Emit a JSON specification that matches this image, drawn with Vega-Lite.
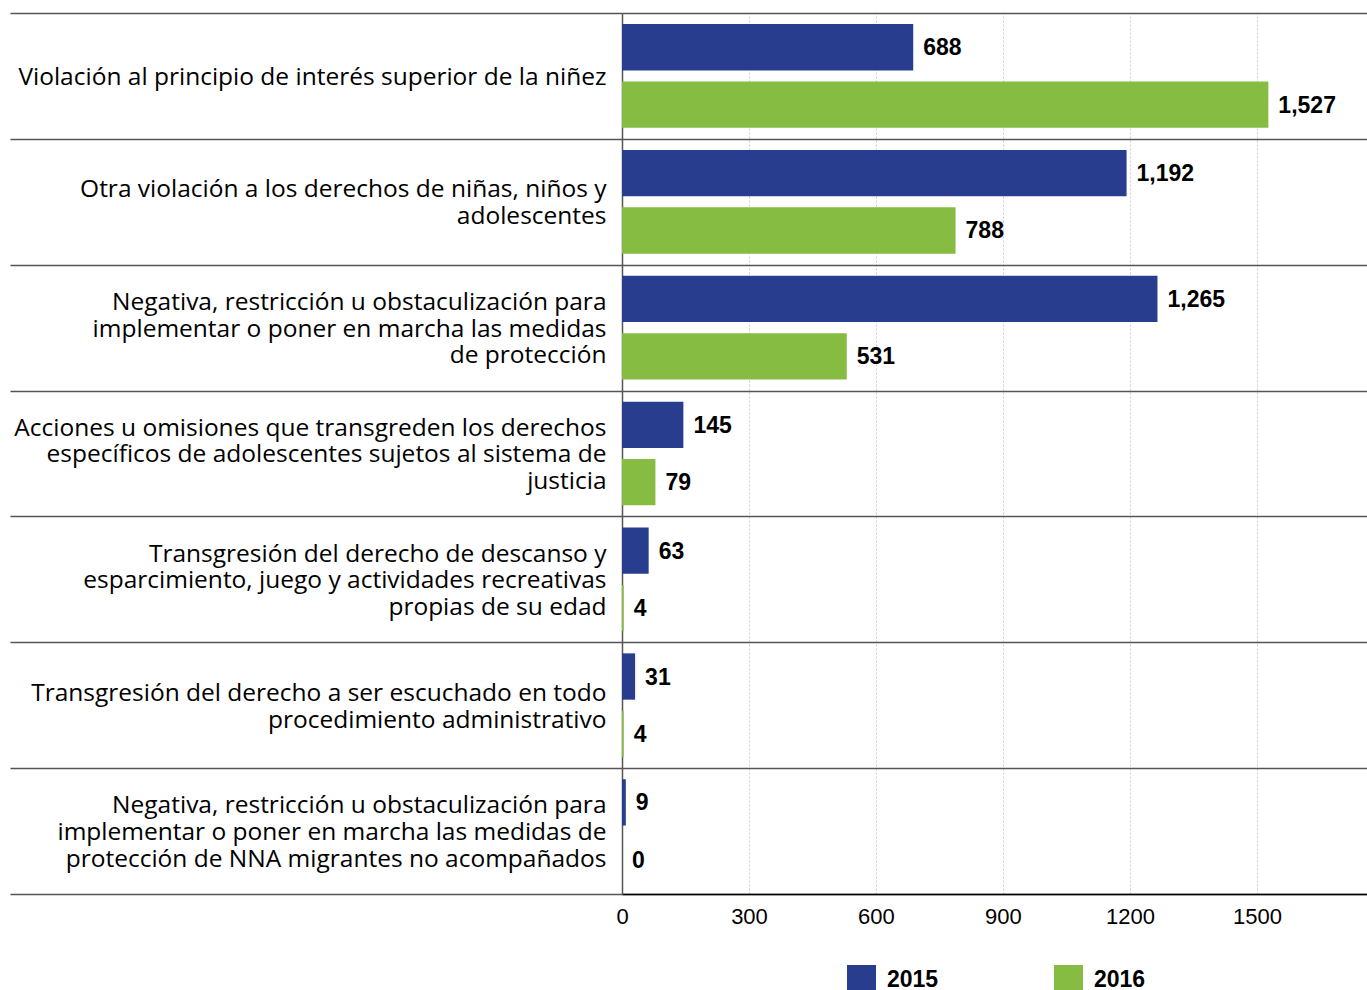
{
  "$schema": "https://vega.github.io/schema/vega-lite/v6.json",
  "width": 745,
  "height": 881,
  "autosize": {"type": "none"},
  "padding": {"left": 622, "top": 13, "right": 0, "bottom": 96},
  "background": "#ffffff",
  "config": {"view": {"stroke": null}, "font": "Liberation Sans"},
  "data": {
    "values": [
      {"categoria": "Violación al principio de interés superior de la niñez", "anio": "2015", "valor": 688},
      {"categoria": "Violación al principio de interés superior de la niñez", "anio": "2016", "valor": 1527},
      {"categoria": "Otra violación a los derechos de niñas, niños y|adolescentes", "anio": "2015", "valor": 1192},
      {"categoria": "Otra violación a los derechos de niñas, niños y|adolescentes", "anio": "2016", "valor": 788},
      {"categoria": "Negativa, restricción u obstaculización para|implementar o poner en marcha las medidas|de protección", "anio": "2015", "valor": 1265},
      {"categoria": "Negativa, restricción u obstaculización para|implementar o poner en marcha las medidas|de protección", "anio": "2016", "valor": 531},
      {"categoria": "Acciones u omisiones que transgreden los derechos|específicos de adolescentes sujetos al sistema de|justicia", "anio": "2015", "valor": 145},
      {"categoria": "Acciones u omisiones que transgreden los derechos|específicos de adolescentes sujetos al sistema de|justicia", "anio": "2016", "valor": 79},
      {"categoria": "Transgresión del derecho de descanso y|esparcimiento, juego y actividades recreativas|propias de su edad", "anio": "2015", "valor": 63},
      {"categoria": "Transgresión del derecho de descanso y|esparcimiento, juego y actividades recreativas|propias de su edad", "anio": "2016", "valor": 4},
      {"categoria": "Transgresión del derecho a ser escuchado en todo|procedimiento administrativo", "anio": "2015", "valor": 31},
      {"categoria": "Transgresión del derecho a ser escuchado en todo|procedimiento administrativo", "anio": "2016", "valor": 4},
      {"categoria": "Negativa, restricción u obstaculización para|implementar o poner en marcha las medidas de|protección de NNA migrantes no acompañados", "anio": "2015", "valor": 9},
      {"categoria": "Negativa, restricción u obstaculización para|implementar o poner en marcha las medidas de|protección de NNA migrantes no acompañados", "anio": "2016", "valor": 0}
    ]
  },
  "encoding": {
    "y": {
      "field": "categoria",
      "type": "nominal",
      "sort": null,
      "scale": {"paddingInner": 0, "paddingOuter": 0},
      "axis": {
        "title": null,
        "tickBand": "extent",
        "tickSize": 612,
        "tickColor": "#555555",
        "tickWidth": 1.5,
        "grid": true,
        "gridColor": "#555555",
        "gridWidth": 1.5,
        "domainColor": "#555555",
        "domainWidth": 1.5,
        "labelPadding": -596,
        "labelFontSize": 24.5,
        "labelFont": "Open Sans",
        "labelColor": "#000000",
        "labelExpr": "isValid(datum.value) ? split(datum.value, '|') : ''",
        "labelOffset": {"expr": "isValid(datum.value) ? 1.5 - (length(split(datum.value, '|')) - 1) * 13.3 : 0"},
        "labelLineHeight": 26.6,
        "labelLimit": 0
      }
    },
    "x": {
      "field": "valor",
      "type": "quantitative",
      "scale": {"domain": [0, 1760], "nice": false},
      "axis": {
        "title": null,
        "values": [0, 300, 600, 900, 1200, 1500],
        "format": "d",
        "ticks": false,
        "labelFlush": false,
        "labelPadding": 12,
        "labelFontSize": 22,
        "labelFont": "Liberation Sans",
        "labelColor": "#000000",
        "domainColor": "#000000",
        "domainWidth": 1.5,
        "grid": true,
        "gridColor": "#cccccc",
        "gridDash": [2, 2],
        "gridWidth": 1
      }
    },
    "yOffset": {
      "field": "anio",
      "type": "nominal",
      "scale": {"paddingInner": 0.193, "paddingOuter": 0.193}
    }
  },
  "layer": [
    {
      "mark": {"type": "bar"},
      "encoding": {
        "color": {
          "field": "anio",
          "type": "nominal",
          "scale": {"domain": ["2015", "2016"], "range": ["#283D8E", "#86BC42"]},
          "legend": {
            "title": null,
            "orient": "none",
            "legendX": 225,
            "legendY": 952,
            "direction": "horizontal",
            "symbolType": "square",
            "symbolSize": 841,
            "symbolStrokeWidth": 0,
            "labelFontSize": 23,
            "labelFontWeight": "bold",
            "labelFont": "Liberation Sans",
            "labelColor": "#000000",
            "labelOffset": 11,
            "columnPadding": 115
          }
        }
      }
    },
    {
      "mark": {"type": "text", "align": "left", "baseline": "middle", "dx": 10, "dy": 1, "fontSize": 23, "fontWeight": "bold", "font": "Liberation Sans", "color": "#000000"},
      "encoding": {"text": {"field": "valor", "type": "quantitative", "format": ","}}
    }
  ]
}
